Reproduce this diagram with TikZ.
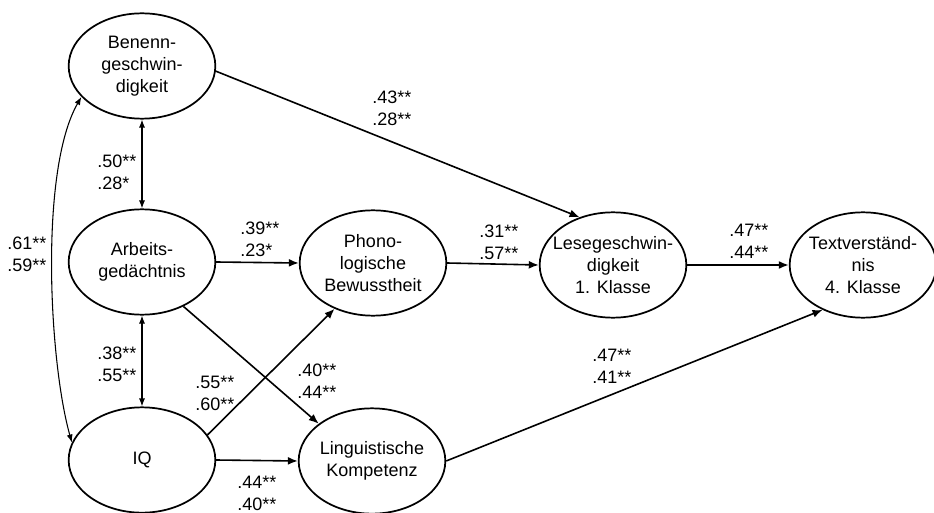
\documentclass[tikz,border=0pt]{standalone}
\usepackage{fontspec}
\setmainfont{Liberation Sans}
\usetikzlibrary{arrows.meta}
\usetikzlibrary{shapes.geometric}

\begin{document}
\begin{tikzpicture}[x=0.75pt, y=-0.75pt,
    font=\fontsize{13.5}{16.5}\selectfont,
    var/.style={ellipse, draw, line width=1.3pt, minimum width=110pt, minimum height=79pt, inner xsep=-10pt, inner ysep=0pt, align=center},
    pfeil/.style={line width=1.2pt, -{Latex[length=7.5pt, width=6pt]}},
    korr/.style={line width=0.8pt, {Latex[length=6pt, width=4.5pt]}-{Latex[length=6pt, width=4.5pt]}},
    koef/.style={anchor=west, inner sep=0pt, align=left}]
    \useasboundingbox (0,0) rectangle (934,513);

    \node[var] (benenn) at (142,66) {Benenn-\\geschwin-\\digkeit};
    \node[var] (arbeits) at (142,262) {Arbeits-\\gedächtnis};
    \node[var] (iq) at (142,460) {IQ};
    \node[var] (phono) at (373,263) {Phono-\\logische\\Bewusstheit};
    \node[var] (lingu) at (372,461) {Linguistische\\Kompetenz};
    \node[var] (lese) at (613,265) {Lesegeschwin-\\digkeit\\1. Klasse};
    \node[var] (text) at (863,265) {Textverständ-\\nis\\4. Klasse};

    \draw[korr] (benenn.south) -- (arbeits.north);
    \draw[korr] (arbeits.south) -- (iq.north);
    \draw[korr] (benenn.207) .. controls +(-42,73) and +(-23,-82) .. (iq.166);

    \draw[pfeil] (benenn.-4) -- (lese.125);
    \draw[pfeil] (arbeits.east) -- (phono.west);
    \draw[pfeil] (arbeits.-47) -- (lingu.145);
    \draw[pfeil] (iq.21) -- (phono.230);
    \draw[pfeil] (iq.east) -- (lingu.west);
    \draw[pfeil] (phono.east) -- (lese.west);
    \draw[pfeil] (lese.east) -- (text.west);
    \draw[pfeil] (lingu.east) -- (text.228);

    \foreach \n/\x/\y/\a/\b in {
        ba/97/172/.50**/.28*, bi/7/254/.61**/.59**, ai/97/364/.38**/.55**,
        bl/372/108/.43**/.28**, ap/240/239/.39**/.23*, al/297/381/.40**/.44**,
        ip/195/393/.55**/.60**, il/237/493/.44**/.40**, pl/479/242/.31**/.57**,
        lt/729/241/.47**/.44**, kt/592/366/.47**/.41**} {
      \node[koef] (k\n) at (\x,\y) {\a\\\b};
    }
\end{tikzpicture}
\end{document}
